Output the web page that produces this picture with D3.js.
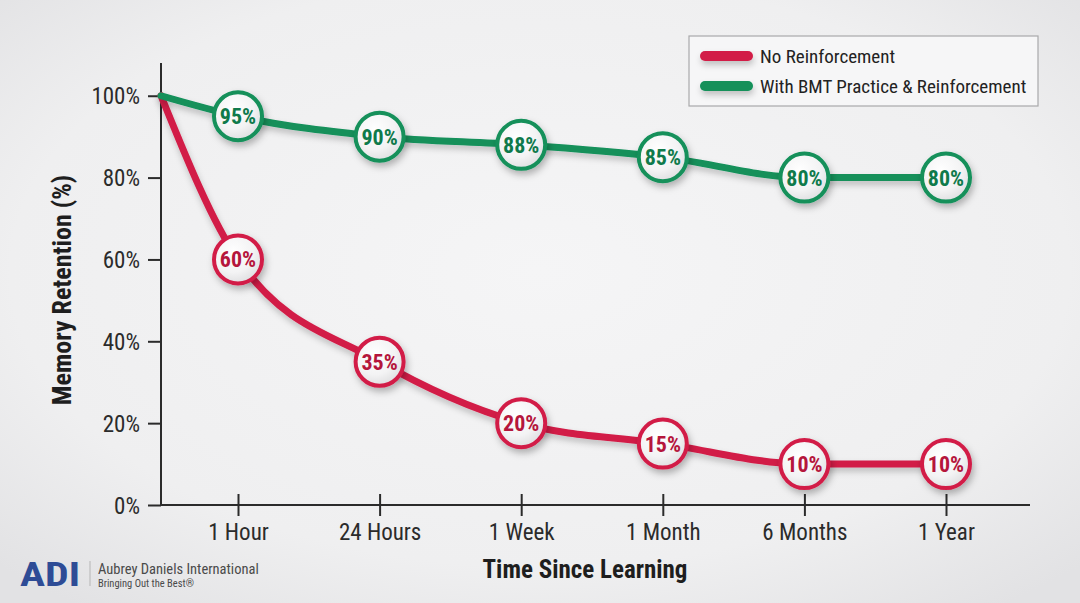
<!DOCTYPE html>
<html>
<head>
<meta charset="utf-8">
<script src="https://cdnjs.cloudflare.com/ajax/libs/d3/7.8.5/d3.min.js"></script>
<style>
  body { margin: 0; background: #ededee; }
  svg { display: block; }
  text { font-family: "Liberation Sans Narrow", "Roboto Condensed", "Roboto", sans-serif; }
</style>
</head>
<body>
<svg id="chart" width="1080" height="603"></svg>
<script>
// chart values
var times = ["1 Hour", "24 Hours", "1 Week", "1 Month", "6 Months", "1 Year"];
var startValue = 100;
var noReinforcement = [60, 35, 20, 15, 10, 10];
var withBMT = [95, 90, 88, 85, 80, 80];
var yTicks = [0, 20, 40, 60, 80, 100];
var seriesNames = ["No Reinforcement", "With BMT Practice & Reinforcement"];

var red = "#d21c47", redDark = "#b5163c";
var green = "#12905a", greenDark = "#0f7a4b";

var svg = d3.select("#chart");
var W = 1080, H = 603;
var plotLeft = 161, plotRight = 1030, plotBottom = 505, plotTop = 63;

var defs = svg.append("defs");

// background vignette
var bg = defs.append("radialGradient").attr("id", "bg").attr("cx", "50%").attr("cy", "45%").attr("r", "70%");
bg.append("stop").attr("offset", "0%").attr("stop-color", "#f5f5f6");
bg.append("stop").attr("offset", "70%").attr("stop-color", "#efeff0");
bg.append("stop").attr("offset", "100%").attr("stop-color", "#e2e2e4");

var knob = defs.append("radialGradient").attr("id", "knob").attr("cx", "40%").attr("cy", "35%").attr("r", "70%");
knob.append("stop").attr("offset", "0%").attr("stop-color", "#ffffff");
knob.append("stop").attr("offset", "60%").attr("stop-color", "#f3f3f4");
knob.append("stop").attr("offset", "100%").attr("stop-color", "#dcdcde");

var shadow = defs.append("filter").attr("id", "shadow").attr("x", "-30%").attr("y", "-30%").attr("width", "160%").attr("height", "180%");
shadow.append("feDropShadow").attr("dx", 2).attr("dy", 4).attr("stdDeviation", 3.5).attr("flood-color", "#000").attr("flood-opacity", 0.28);

// user space so flat lines keep their shadow
var lineShadow = defs.append("filter").attr("id", "lineShadow").attr("filterUnits", "userSpaceOnUse")
  .attr("x", 0).attr("y", 0).attr("width", W).attr("height", H);
lineShadow.append("feDropShadow").attr("dx", 1).attr("dy", 4).attr("stdDeviation", 3).attr("flood-color", "#000").attr("flood-opacity", 0.22);

svg.append("rect").attr("width", W).attr("height", H).attr("fill", "url(#bg)");

// scales
var x = d3.scalePoint().domain(times).range([238, 946]);
var y = d3.scaleLinear().domain([0, 108]).range([plotBottom, plotTop]);

// axes
var yAxis = svg.append("g").attr("transform", "translate(" + plotLeft + ",0)")
  .call(d3.axisLeft(y).tickValues(yTicks).tickSize(13).tickPadding(8).tickFormat(function (d) { return d + "%"; }));
yAxis.select(".domain").remove();
yAxis.selectAll("line").attr("stroke", "#2b2b2b").attr("stroke-width", 2);
yAxis.selectAll("text").attr("font-size", 23).attr("fill", "#2b2b2b").attr("dy", "0.35em");

svg.append("line").attr("x1", plotLeft).attr("x2", plotLeft).attr("y1", plotTop).attr("y2", plotBottom)
  .attr("stroke", "#2b2b2b").attr("stroke-width", 2);
svg.append("line").attr("x1", plotLeft).attr("x2", plotRight).attr("y1", plotBottom).attr("y2", plotBottom)
  .attr("stroke", "#2b2b2b").attr("stroke-width", 2);

var xAxis = svg.append("g").attr("transform", "translate(0," + plotBottom + ")")
  .call(d3.axisBottom(x).tickSize(11).tickPadding(8));
xAxis.select(".domain").remove();
xAxis.selectAll("line").attr("stroke", "#2b2b2b").attr("stroke-width", 2).attr("y1", -11);
xAxis.selectAll("text").attr("font-size", 23).attr("fill", "#2b2b2b");

// axis titles
svg.append("text").attr("x", 585).attr("y", 578).attr("text-anchor", "middle")
  .attr("font-size", 25).attr("font-weight", "bold").attr("fill", "#1e1e1e").text("Time Since Learning");
svg.append("text").attr("transform", "translate(71,290) rotate(-90)").attr("text-anchor", "middle")
  .attr("font-size", 26).attr("font-weight", "bold").attr("fill", "#1e1e1e").text("Memory Retention (%)");

// lines
var line = d3.line().x(function (d) { return d.x; }).y(function (d) { return y(d.v); }).curve(d3.curveMonotoneX);

function buildSeries(values, color, darkColor) {
  var pts = [{ x: plotLeft, v: startValue }].concat(values.map(function (v, i) { return { x: x(times[i]), v: v }; }));
  svg.append("path").datum(pts).attr("d", line).attr("fill", "none")
    .attr("stroke", color).attr("stroke-width", 7).attr("stroke-linecap", "round")
    .attr("filter", "url(#lineShadow)");

  var g = svg.append("g").selectAll("g").data(pts.slice(1)).join("g")
    .attr("transform", function (d) { return "translate(" + d.x + "," + y(d.v) + ")"; });
  g.append("circle").attr("r", 24).attr("fill", "url(#knob)")
    .attr("stroke", color).attr("stroke-width", 4).attr("filter", "url(#shadow)");
  g.append("text").attr("text-anchor", "middle").attr("dy", "0.36em")
    .attr("font-size", 22).attr("font-weight", "bold").attr("fill", darkColor)
    .text(function (d) { return d.v + "%"; });
}

buildSeries(noReinforcement, red, redDark);
buildSeries(withBMT, green, greenDark);

// legend
var legend = svg.append("g");
legend.append("rect").attr("x", 689).attr("y", 36).attr("width", 349).attr("height", 70)
  .attr("fill", "#f6f6f7").attr("stroke", "#a9a9ab").attr("stroke-width", 1.2);
[[red, 56], [green, 86]].forEach(function (c, i) {
  legend.append("line").attr("x1", 705).attr("x2", 748).attr("y1", c[1]).attr("y2", c[1])
    .attr("stroke", c[0]).attr("stroke-width", 10).attr("stroke-linecap", "round").attr("filter", "url(#lineShadow)");
  legend.append("text").attr("x", 760).attr("y", c[1]).attr("dy", "0.35em")
    .attr("font-size", 19).attr("fill", "#222").text(seriesNames[i]);
});

// logo
svg.append("text").attr("x", 20).attr("y", 586).attr("font-family", "'DejaVu Sans', sans-serif")
  .attr("font-size", 33).attr("font-weight", "bold").attr("fill", "#2e4c96")
  .attr("textLength", 60).attr("lengthAdjust", "spacingAndGlyphs").text("ADI");
svg.append("line").attr("x1", 90).attr("x2", 90).attr("y1", 561).attr("y2", 586).attr("stroke", "#b5b5b5").attr("stroke-width", 1);
svg.append("text").attr("x", 98).attr("y", 574).attr("font-size", 14.5).attr("fill", "#4a4a4a").text("Aubrey Daniels International");
svg.append("text").attr("x", 98).attr("y", 587).attr("font-size", 10.5).attr("fill", "#4a4a4a").text("Bringing Out the Best\u00ae");
</script>
</body>
</html>
